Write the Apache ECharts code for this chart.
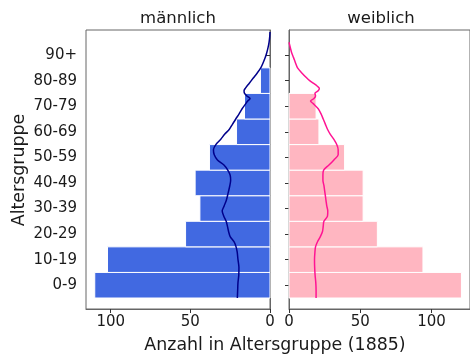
<!DOCTYPE html>
<html>
<head>
<meta charset="utf-8">
<script src="https://cdn.jsdelivr.net/npm/echarts@6/dist/echarts.min.js"></script>
<style>
html,body{margin:0;padding:0;background:#fff;}
#chart{width:470px;height:357px;}
</style>
</head>
<body>
<div id="chart"></div>
<script>
// Altersgruppen und Anzahl (1885)
var gruppen = ['0-9','10-19','20-29','30-39','40-49','50-59','60-69','70-79','80-89','90+'];
var maenner = [110,102,53,44,47,38,21,16,6,0];
var frauen  = [121,94,62,52,52,39,21,19,0,0];

// Verlauf nach Einzeljahren
var alterM = [0,3,6,9,12,15,18,20,22,24,26,28,30,32,34,36,38,41,44,46,48,50,52,54,56,58,60,62,64,66,68,70,72,74,76,77,78,79,80,81,82,84,86,88,90,92,94,96,98,100,102,104];
var linieM = [20.5,20.3,20.1,19.6,19.5,20.1,20.6,21.3,22.6,25,26,26.7,27.5,29,30,28.8,27.5,26.3,25.2,24.7,25,26.5,28.9,33,35,35.5,34,31,28.5,25.5,23.5,21.5,19.4,17.5,15.2,14,12.5,14.5,16,16.3,15.5,13,10.5,8,5.8,4.3,3,2,1.2,0.6,0.2,0];
var alterW = [0,3,6,9,12,15,18,20,22,24,26,28,30,32,34,36,38,40,42,44,46,48,50,52,54,56,58,60,62,64,66,68,70,72,74,76,77,78,79,80,81,82,83,84,85,86,88,90,92,94,96,98,100];
var linieW = [19,19,18.8,18.3,18,17.9,18.2,18.6,20,22,23.5,24,24.5,27,27.2,26.5,26,25.5,25,24.5,23.8,23.8,24.3,28,31.5,34.5,34.5,33.5,31.5,29,27,25.5,24,22.5,20.5,17,15.1,17.5,18.6,18.2,20.5,21.3,19.5,17,14.5,12.5,9,6,4.5,3.2,1.8,0.9,0];

var yTicks = [0,1,2,3,4,5,6,7,8,9];

var schrift = 'DejaVu Sans';
var textFarbe = '#1a1a1a';

function balkenDaten(werte){
	var arr = [];
	for(var i=0;i<werte.length;i++){
		if(werte[i] > 0) arr.push([werte[i], i]);
	}
	return arr;
}
function linienDaten(alter, werte){
	var arr = [];
	for(var i=0;i<alter.length;i++){
		arr.push([werte[i], alter[i]/10 - 0.5]);
	}
	return arr;
}
//Balken über die Achsen zeichnen
function balkenZeichnen(farbe){
	return function(params, api){
		var n = api.value(0), v = api.value(1);
		var a = api.coord([0, v - 0.5]);
		var b = api.coord([n, v + 0.5]);
		return {
			type:'rect',
			shape:{x:Math.min(a[0],b[0]), y:Math.min(a[1],b[1]), width:Math.abs(b[0]-a[0]), height:Math.abs(b[1]-a[1])},
			style:{fill:farbe, stroke:'#fff', lineWidth:1}
		};
	};
}

function yAchse(gridIndex, mitText){
	return {
		type:'value', gridIndex:gridIndex, min:-0.93, max:9.98,
		axisLine:{show:true, lineStyle:{color:'#666'}},
		axisTick:{show:true, length:4, customValues:yTicks, lineStyle:{color:'#333'}},
		axisLabel:{show:mitText, customValues:yTicks, margin:9, fontSize:15, fontFamily:schrift, color:textFarbe,
			formatter:function(v){ return gruppen[Math.round(v)]; }},
		splitLine:{show:false}
	};
}
function xAchse(gridIndex, max, umgekehrt){
	return {
		type:'value', gridIndex:gridIndex, min:0, max:max, interval:50, inverse:umgekehrt,
		axisLine:{show:true, onZero:false, lineStyle:{color:'#666'}},
		axisTick:{show:true, length:4, lineStyle:{color:'#333'}},
		axisLabel:{margin:6, fontSize:15, fontFamily:schrift, color:textFarbe,
			showMinLabel:true, showMaxLabel:false},
		splitLine:{show:false}
	};
}

var chart = echarts.init(document.getElementById('chart'), null, {renderer:'canvas'});
var option = {
	animation:false,
	backgroundColor:'#fff',
	grid:[
		{left:86, top:30, width:184, height:279, show:true, borderColor:'#666', borderWidth:1, backgroundColor:'transparent'},
		{left:289, top:30, width:185, height:279, show:true, borderColor:'#666', borderWidth:1, backgroundColor:'transparent'}
	],
	xAxis:[ xAchse(0, 115.5, true), xAchse(1, 127, false) ],
	yAxis:[ yAchse(0, true), yAchse(1, false) ],
	graphic:[
		{type:'text', x:178, y:19, style:{text:'männlich', font:'16.5px "DejaVu Sans"', fill:textFarbe, align:'center', verticalAlign:'middle'}},
		{type:'text', x:381, y:19, style:{text:'weiblich', font:'16.5px "DejaVu Sans"', fill:textFarbe, align:'center', verticalAlign:'middle'}},
		{type:'text', x:275, y:345, style:{text:'Anzahl in Altersgruppe (1885)', font:'17.4px "DejaVu Sans"', fill:textFarbe, align:'center', verticalAlign:'middle'}},
		{type:'text', x:19, y:170, rotation:Math.PI/2, style:{text:'Altersgruppe', font:'17.4px "DejaVu Sans"', fill:textFarbe, align:'center', verticalAlign:'middle'}}
	],
	series:[
		{name:'männlich', type:'custom', xAxisIndex:0, yAxisIndex:0, renderItem:balkenZeichnen('#4169E1'),
			encode:{x:0, y:1}, data:balkenDaten(maenner)},
		{name:'weiblich', type:'custom', xAxisIndex:1, yAxisIndex:1, renderItem:balkenZeichnen('#FFB6C1'),
			encode:{x:0, y:1}, data:balkenDaten(frauen)},
		{type:'line', xAxisIndex:0, yAxisIndex:0, showSymbol:false, smooth:0.3, z:5,
			lineStyle:{color:'#00008B', width:1.5}, data:linienDaten(alterM, linieM)},
		{type:'line', xAxisIndex:1, yAxisIndex:1, showSymbol:false, smooth:0.3, z:5,
			lineStyle:{color:'#FF1493', width:1.5}, data:linienDaten(alterW, linieW)}
	]
};
chart.setOption(option);
</script>
</body>
</html>
